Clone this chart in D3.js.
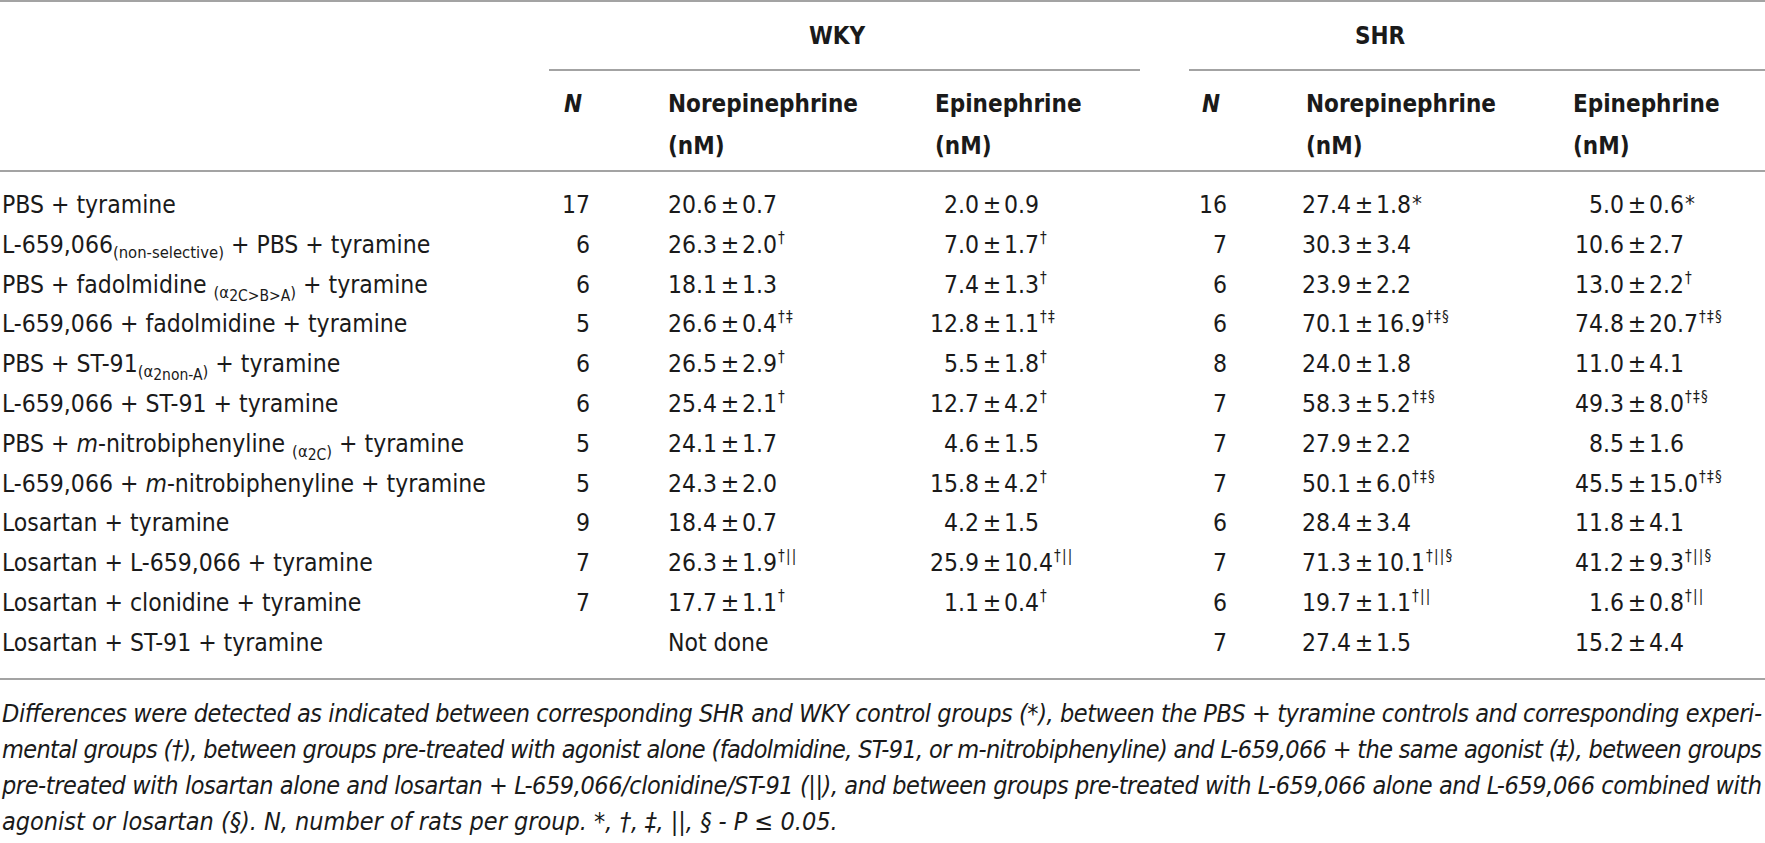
<!DOCTYPE html>
<html>
<head>
<meta charset="utf-8">
<script src="https://cdn.jsdelivr.net/npm/d3@7"></script>
<style>
  body { margin: 0; background: #fff; }
  text { font-family: 'DejaVu Sans Condensed', 'Liberation Sans Narrow', 'DejaVu Sans', sans-serif; fill: #1a1a1a; }
</style>
</head>
<body>
<div id="table"></div>
<script>
// row labels: "_" = subscript, "=" = deeper subscript, "~" = italic
var treatments = [
  ["PBS + tyramine"],
  ["L-659,066", "_(non-selective)", " + PBS + tyramine"],
  ["PBS + fadolmidine ", "_(α", "=2C>B>A", "_)", " + tyramine"],
  ["L-659,066 + fadolmidine + tyramine"],
  ["PBS + ST-91", "_(α", "=2non-A", "_)", " + tyramine"],
  ["L-659,066 + ST-91 + tyramine"],
  ["PBS + ", "~m", "-nitrobiphenyline ", "_(α", "=2C", "_)", " + tyramine"],
  ["L-659,066 + ", "~m", "-nitrobiphenyline + tyramine"],
  ["Losartan + tyramine"],
  ["Losartan + L-659,066 + tyramine"],
  ["Losartan + clonidine + tyramine"],
  ["Losartan + ST-91 + tyramine"]
];

var groups = ["WKY", "SHR"];

// WKY
var wkyN = [17, 6, 6, 5, 6, 6, 5, 5, 9, 7, 7, null];
var wkyNeMean = [20.6, 26.3, 18.1, 26.6, 26.5, 25.4, 24.1, 24.3, 18.4, 26.3, 17.7, null];
var wkyNeSd = [0.7, 2.0, 1.3, 0.4, 2.9, 2.1, 1.7, 2.0, 0.7, 1.9, 1.1, null];
var wkyNeSig = ["", "†", "", "†‡", "†", "†", "", "", "", "†||", "†", ""];
var wkyEpiMean = [2.0, 7.0, 7.4, 12.8, 5.5, 12.7, 4.6, 15.8, 4.2, 25.9, 1.1, null];
var wkyEpiSd = [0.9, 1.7, 1.3, 1.1, 1.8, 4.2, 1.5, 4.2, 1.5, 10.4, 0.4, null];
var wkyEpiSig = ["", "†", "†", "†‡", "†", "†", "", "†", "", "†||", "†", ""];

// SHR
var shrN = [16, 7, 6, 6, 8, 7, 7, 7, 6, 7, 6, 7];
var shrNeMean = [27.4, 30.3, 23.9, 70.1, 24.0, 58.3, 27.9, 50.1, 28.4, 71.3, 19.7, 27.4];
var shrNeSd = [1.8, 3.4, 2.2, 16.9, 1.8, 5.2, 2.2, 6.0, 3.4, 10.1, 1.1, 1.5];
var shrNeSig = ["*", "", "", "†‡§", "", "†‡§", "", "†‡§", "", "†||§", "†||", ""];
var shrEpiMean = [5.0, 10.6, 13.0, 74.8, 11.0, 49.3, 8.5, 45.5, 11.8, 41.2, 1.6, 15.2];
var shrEpiSd = [0.6, 2.7, 2.2, 20.7, 4.1, 8.0, 1.6, 15.0, 4.1, 9.3, 0.8, 4.4];
var shrEpiSig = ["*", "", "†", "†‡§", "", "†‡§", "", "†‡§", "", "†||§", "†||", ""];

var notDone = "Not done";

var footnote = [
  "Differences were detected as indicated between corresponding SHR and WKY control groups (*), between the PBS + tyramine controls and corresponding experi-",
  "mental groups (†), between groups pre-treated with agonist alone (fadolmidine, ST-91, or m-nitrobiphenyline) and L-659,066 + the same agonist (‡), between groups",
  "pre-treated with losartan alone and losartan + L-659,066/clonidine/ST-91 (||), and between groups pre-treated with L-659,066 alone and L-659,066 combined with",
  "agonist or losartan (§). N, number of rats per group. *, †, ‡, ||, § - P ≤ 0.05."
];

var svgWidth = 1765;
var svgHeight = 843;
var fontSize = 24.5;
var headSize = 24;

var svg = d3.select("#table")
  .append("svg")
  .attr("width", svgWidth)
  .attr("height", svgHeight);

// row positions
var y = d3.scaleBand()
  .domain(d3.range(treatments.length))
  .range([184, 661.6]);

// column anchors (N columns: right edge, value columns: centre of the ± sign)
var colKeys = ["label", "wkyN", "wkyNe", "wkyEpi", "shrN", "shrNe", "shrEpi"];
var x = d3.scaleOrdinal()
  .domain(colKeys)
  .range([2, 590, 730, 992, 1227, 1364, 1637]);
// left edge of each column header
var xHead = d3.scaleOrdinal()
  .domain(colKeys)
  .range([2, 564, 668, 935, 1202, 1306, 1573]);

function baseline(i) {
  return y(i) + y.bandwidth() / 2 + 9;
}

// rules
function rule(x1, x2, yy) {
  svg.append("line")
    .attr("x1", x1).attr("x2", x2)
    .attr("y1", yy).attr("y2", yy)
    .attr("stroke", "#a3a3a3")
    .attr("stroke-width", 2);
}
rule(0, svgWidth, 1);
rule(549, 1140, 70);
rule(1189, svgWidth, 70);
rule(0, svgWidth, 171);
rule(0, svgWidth, 679);

// group headers
svg.selectAll("text.group")
  .data(groups)
  .enter()
  .append("text")
  .attr("class", "group")
  .attr("x", (d, i) => i === 0 ? 837 : 1380)
  .attr("y", 44)
  .attr("text-anchor", "middle")
  .attr("font-size", headSize)
  .attr("font-weight", "bold")
  .text(d => d);

// column headers
["wkyN", "shrN"].forEach(function(k) {
  svg.append("text")
    .attr("x", xHead(k))
    .attr("y", 112)
    .attr("font-size", headSize)
    .attr("font-weight", "bold")
    .attr("font-style", "italic")
    .text("N");
});
[["wkyNe", "Norepinephrine"], ["wkyEpi", "Epinephrine"], ["shrNe", "Norepinephrine"], ["shrEpi", "Epinephrine"]].forEach(function(h) {
  var t = svg.append("text")
    .attr("x", xHead(h[0]))
    .attr("y", 112)
    .attr("font-size", headSize)
    .attr("font-weight", "bold");
  t.append("tspan").text(h[1]);
  t.append("tspan").attr("x", xHead(h[0])).attr("dy", 42).text("(nM)");
});

// row labels
var offsets = { "": 0, "_": 5, "=": 8 };
var sizes = { "": fontSize, "_": 16.5, "=": 15.5 };
treatments.forEach(function(segs, i) {
  var t = svg.append("text")
    .attr("x", x("label"))
    .attr("y", baseline(i))
    .attr("font-size", fontSize);
  var cur = 0;
  segs.forEach(function(s) {
    var mark = "";
    var italic = false;
    if (s[0] === "_" || s[0] === "=") { mark = s[0]; s = s.slice(1); }
    else if (s[0] === "~") { italic = true; s = s.slice(1); }
    var off = offsets[mark];
    t.append("tspan")
      .attr("dy", off - cur)
      .attr("font-size", sizes[mark])
      .attr("font-style", italic ? "italic" : null)
      .text(s);
    cur = off;
  });
});

// N columns
function drawNCol(key, values) {
  var rows = values.map((v, i) => ({ i: i, v: v })).filter(d => d.v !== null);
  svg.selectAll("text." + key)
    .data(rows)
    .enter()
    .append("text")
    .attr("class", key)
    .attr("x", x(key))
    .attr("y", d => baseline(d.i))
    .attr("text-anchor", "end")
    .attr("font-size", fontSize)
    .text(d => d.v);
}
drawNCol("wkyN", wkyN);
drawNCol("shrN", shrN);

// mean ± SD columns
function drawValues(key, means, sds, sigs) {
  var rows = means.map((m, i) => ({ i: i, m: m, sd: sds[i], sig: sigs[i] }))
    .filter(d => d.m !== null);
  var g = svg.append("g").attr("class", key);
  var cell = g.selectAll("g")
    .data(rows)
    .enter()
    .append("g");
  cell.append("text")
    .attr("x", x(key) - 13)
    .attr("y", d => baseline(d.i))
    .attr("text-anchor", "end")
    .attr("font-size", fontSize)
    .text(d => d.m.toFixed(1));
  cell.append("text")
    .attr("x", x(key))
    .attr("y", d => baseline(d.i))
    .attr("text-anchor", "middle")
    .attr("font-size", fontSize)
    .text("±");
  var sd = cell.append("text")
    .attr("x", x(key) + 12)
    .attr("y", d => baseline(d.i))
    .attr("font-size", fontSize);
  sd.append("tspan").text(d => d.sd.toFixed(1));
  sd.append("tspan")
    .attr("dx", 1)
    .attr("dy", d => d.sig === "*" ? -2 : -10)
    .attr("font-size", d => d.sig === "*" ? 22 : 15)
    .attr("letter-spacing", 1.2)
    .text(d => d.sig);
}
drawValues("wkyNe", wkyNeMean, wkyNeSd, wkyNeSig);
drawValues("wkyEpi", wkyEpiMean, wkyEpiSd, wkyEpiSig);
drawValues("shrNe", shrNeMean, shrNeSd, shrNeSig);
drawValues("shrEpi", shrEpiMean, shrEpiSd, shrEpiSig);

// "Not done" for the last WKY row
svg.append("text")
  .attr("x", xHead("wkyNe"))
  .attr("y", baseline(treatments.length - 1))
  .attr("font-size", fontSize)
  .text(notDone);

// footnote, justified except the last line
svg.selectAll("text.note")
  .data(footnote)
  .enter()
  .append("text")
  .attr("class", "note")
  .attr("x", 2)
  .attr("y", (d, i) => 722 + i * 36)
  .attr("font-size", 25)
  .attr("font-style", "italic")
  .attr("textLength", (d, i) => i < footnote.length - 1 ? 1760 : null)
  .attr("lengthAdjust", "spacing")
  .text(d => d);
</script>
</body>
</html>
